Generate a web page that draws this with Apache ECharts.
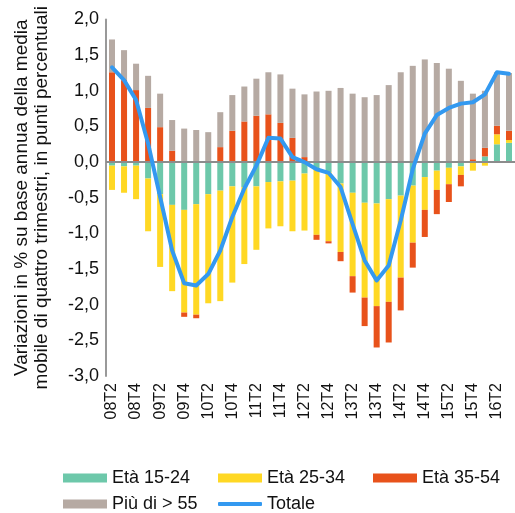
<!DOCTYPE html>
<html>
<head>
<meta charset="utf-8">
<script src="https://cdn.jsdelivr.net/npm/echarts@6/dist/echarts.min.js"></script>
<style>
  html, body { margin: 0; padding: 0; background: #fff; }
  #chart { width: 515px; height: 513px; }
</style>
</head>
<body>
<div id="chart"></div>
<script>
// trimestri
const quarters = ['08T2','08T3','08T4','09T1','09T2','09T3','09T4','10T1','10T2','10T3','10T4',
  '11T1','11T2','11T3','11T4','12T1','12T2','12T3','12T4','13T1','13T2','13T3','13T4',
  '14T1','14T2','14T3','14T4','15T1','15T2','15T3','15T4','16T1','16T2','16T3'];

const eta1524 = [-0.05,-0.06,-0.05,-0.23,-0.45,-0.60,-0.67,-0.59,-0.45,-0.40,-0.34,
  -0.35,-0.34,-0.28,-0.27,-0.26,-0.16,-0.09,-0.14,-0.30,-0.43,-0.57,-0.58,
  -0.52,-0.47,-0.33,-0.21,-0.12,-0.08,-0.06,0,0.08,0.25,0.27];

const eta2534 = [-0.34,-0.37,-0.47,-0.74,-1.02,-1.21,-1.44,-1.55,-1.53,-1.55,-1.35,
  -1.08,-0.89,-0.65,-0.63,-0.71,-0.80,-0.93,-0.97,-0.96,-1.17,-1.33,-1.44,
  -1.44,-1.15,-0.80,-0.46,-0.27,-0.23,-0.12,-0.12,-0.05,0.14,0.04];

const eta3554 = [1.26,1.15,1.01,0.76,0.49,0.16,-0.06,-0.05,0,0.21,0.44,
  0.57,0.65,0.67,0.55,0.34,0.07,-0.07,-0.03,-0.13,-0.23,-0.40,-0.58,
  -0.57,-0.46,-0.35,-0.38,-0.34,-0.25,-0.16,0.04,0.12,0.12,0.13];

const over55 = [0.46,0.42,0.37,0.45,0.47,0.43,0.47,0.45,0.42,0.49,0.50,
  0.49,0.52,0.59,0.68,0.69,0.88,0.99,1.00,1.04,0.96,0.91,0.94,
  1.08,1.26,1.35,1.44,1.39,1.31,1.14,0.92,0.80,0.75,0.81];

const totale = [1.33,1.15,0.87,0.26,-0.49,-1.24,-1.70,-1.73,-1.57,-1.24,-0.77,
  -0.37,-0.05,0.34,0.33,0.07,0.00,-0.10,-0.15,-0.35,-0.87,-1.38,-1.66,
  -1.45,-0.82,-0.10,0.40,0.66,0.76,0.82,0.84,0.95,1.26,1.24];

const names = ['Età 15-24', 'Età 25-34', 'Età 35-54', 'Più di > 55', 'Totale'];
const colors = ['#6dc8aa', '#ffd824', '#e8521b', '#b6aaa3', '#3399f0'];

const fontFamily = '"Liberation Sans", Arial, sans-serif';

const barSeries = (name, data, color) => ({
    name,
    type: 'bar',
    stack: 'tot',
    data,
    barWidth: '50%',
    itemStyle: { color },
    silent: true,
});

// una legenda per voce, cosi le colonne restano fisse
const legendAt = (name, left, top, isLine) => ({
    data: [{ name, icon: isLine ? 'roundRect' : 'rect' }],
    left,
    top,
    padding: 0,
    itemWidth: 44,
    itemHeight: isLine ? 4 : 9,
    itemGap: 0,
    selectedMode: false,
    textStyle: { fontSize: 18, color: '#111', fontFamily },
});

const chart = echarts.init(document.getElementById('chart'), null, { renderer: 'canvas' });

chart.setOption({
    animation: false,
    textStyle: { fontFamily },
    grid: { left: 106, right: -2, top: 19.5, bottom: 137 },
    legend: [
        legendAt(names[0], 63, 469),
        legendAt(names[1], 218, 469),
        legendAt(names[2], 373, 469),
        legendAt(names[3], 63, 495),
        legendAt(names[4], 218, 495, true),
    ],
    xAxis: {
        type: 'category',
        data: quarters,
        axisLine: { show: false, onZero: false },
        axisTick: { show: false },
        axisLabel: {
            interval: 1,
            rotate: 90,
            margin: 7,
            fontSize: 16,
            color: '#111',
            fontFamily,
        },
    },
    yAxis: {
        type: 'value',
        min: -3,
        max: 2,
        interval: 0.5,
        name: 'Variazioni in % su base annua della media\nmobile di quattro trimestri, in punti percentuali',
        nameLocation: 'middle',
        nameRotate: 90,
        nameGap: 54,
        nameTextStyle: { fontSize: 19, color: '#111', lineHeight: 20, fontFamily },
        axisLine: { show: true, lineStyle: { color: '#999', width: 2 } },
        axisTick: { show: false },
        splitLine: { show: false },
        axisLabel: {
            margin: 7,
            fontSize: 18,
            color: '#111',
            fontFamily,
            formatter: v => v.toFixed(1).replace('.', ','),
        },
    },
    series: [
        barSeries(names[0], eta1524, colors[0]),
        barSeries(names[1], eta2534, colors[1]),
        barSeries(names[2], eta3554, colors[2]),
        Object.assign(barSeries(names[3], over55, colors[3]), {
            markLine: {
                silent: true,
                symbol: 'none',
                label: { show: false },
                lineStyle: { color: '#8c8c8c', width: 2, type: 'solid' },
                data: [{ yAxis: 0 }],
            },
        }),
        {
            name: names[4],
            type: 'line',
            data: totale,
            symbol: 'none',
            z: 5,
            lineStyle: { color: colors[4], width: 4, cap: 'round', join: 'round' },
            itemStyle: { color: colors[4] },
        },
    ],
});
</script>
</body>
</html>
